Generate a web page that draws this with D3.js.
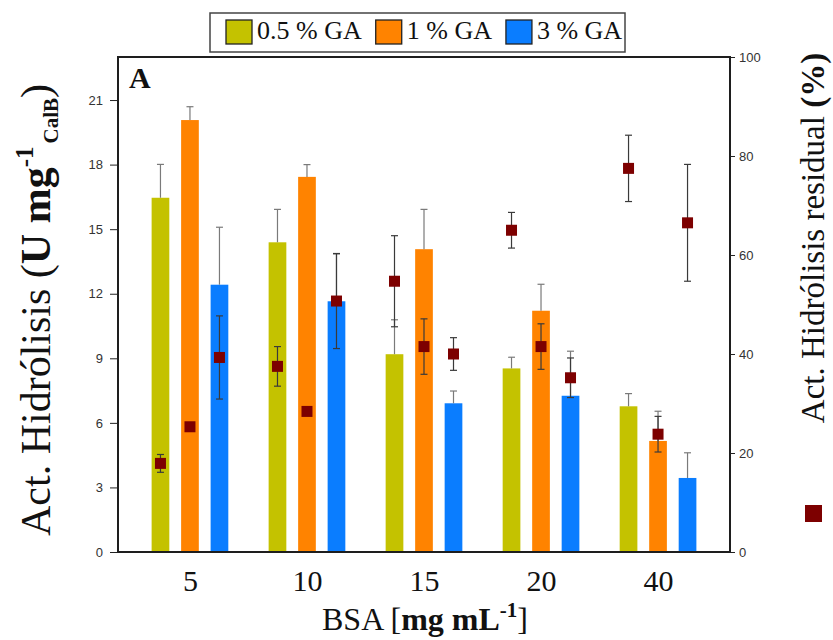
<!DOCTYPE html>
<html><head><meta charset="utf-8">
<script src="https://cdn.jsdelivr.net/npm/d3@7"></script>
<style>
body{margin:0;background:#fff;}
svg{display:block;}
</style></head>
<body>
<svg id="chart" width="833" height="640"></svg>
<script>
// ---- data ----
const categories = ["5", "10", "15", "20", "40"];
const seriesNames = ["0.5 % GA", "1 % GA", "3 % GA"];
const seriesColors = ["#c4c200", "#ff8300", "#0a7dff"];
// Act. Hidrólisis (U mg-1 CalB) — bars
const act05 = [16.46, 14.39, 9.19, 8.53, 6.77];
const act05Err = [1.55, 1.53, 1.6, 0.52, 0.59];
const act1 = [20.07, 17.43, 14.07, 11.21, 5.16];
const act1Err = [0.62, 0.57, 1.85, 1.23, 1.38];
const act3 = [12.42, 11.65, 6.91, 7.26, 3.44];
const act3Err = [2.67, 2.2, 0.57, 2.07, 1.17];
// Act. Hidrólisis residual (%) — squares
const resid05 = [17.9, 37.5, 54.7, 65.0, 77.5];
const resid05Err = [1.8, 4.0, 9.2, 3.6, 6.7];
const resid1 = [25.3, 28.4, 41.5, 41.5, 23.8];
const resid1Err = [0, 0, 5.6, 4.6, 3.6];
const resid3 = [39.3, 50.7, 40.0, 35.2, 66.5];
const resid3Err = [8.4, 9.6, 3.3, 4.0, 11.8];
const leftTicks = [0, 3, 6, 9, 12, 15, 18, 21];
const rightTicks = [0, 20, 40, 60, 80, 100];

const barVals = [act05, act1, act3];
const barErrs = [act05Err, act1Err, act3Err];
const resVals = [resid05, resid1, resid3];
const resErrs = [resid05Err, resid1Err, resid3Err];

// ---- layout ----
const L = 118, R = 730, T = 57, B = 552;
const serif = "'Liberation Serif','Times New Roman',serif";
const sans = "'Liberation Sans',Arial,sans-serif";
const svg = d3.select("#chart");

const x0 = d3.scalePoint().domain(categories).range([L, R]).padding(0.615);
const x1 = d3.scaleBand().domain(d3.range(seriesNames.length)).range([-44.25, 44.25]).paddingInner(0.4).paddingOuter(0.2);
const yL = d3.scaleLinear().domain([0, 23]).range([B, T]);
const yR = d3.scaleLinear().domain([0, 100]).range([B, T]);

// flatten records
const recs = [];
categories.forEach((c, i) => {
  seriesNames.forEach((s, k) => {
    recs.push({c, k, v: barVals[k][i], e: barErrs[k][i], r: resVals[k][i], re: resErrs[k][i]});
  });
});
const cx = d => x0(d.c) + x1(d.k) + x1.bandwidth() / 2;

// bars
svg.append("g").selectAll("rect").data(recs).join("rect")
  .attr("x", d => x0(d.c) + x1(d.k))
  .attr("y", d => yL(d.v))
  .attr("width", x1.bandwidth())
  .attr("height", d => yL(0) - yL(d.v))
  .attr("fill", d => seriesColors[d.k]);

// bar error bars (upward)
const be = svg.append("g").attr("stroke", "#7a7a7a").attr("stroke-width", 1.2);
recs.forEach(d => {
  const X = cx(d);
  be.append("line").attr("x1", X).attr("x2", X).attr("y1", yL(d.v)).attr("y2", yL(d.v + d.e));
  be.append("line").attr("x1", X - 3.5).attr("x2", X + 3.5).attr("y1", yL(d.v + d.e)).attr("y2", yL(d.v + d.e));
});

// residual error bars
const re = svg.append("g").attr("stroke", "#3a3a3a").attr("stroke-width", 1.2);
recs.forEach(d => {
  const X = cx(d);
  re.append("line").attr("x1", X).attr("x2", X).attr("y1", yR(d.r - d.re)).attr("y2", yR(d.r + d.re));
  [d.r - d.re, d.r + d.re].forEach(v => {
    re.append("line").attr("x1", X - 3.5).attr("x2", X + 3.5).attr("y1", yR(v)).attr("y2", yR(v));
  });
});

// squares
const sq = 11;
svg.append("g").selectAll("rect").data(recs).join("rect")
  .attr("x", d => cx(d) - sq / 2)
  .attr("y", d => yR(d.r) - sq / 2)
  .attr("width", sq).attr("height", sq)
  .attr("fill", "#7d0000");

// frame
svg.append("rect").attr("x", L).attr("y", T).attr("width", R - L).attr("height", B - T)
  .attr("fill", "none").attr("stroke", "#1e1e1e").attr("stroke-width", 2);

// left axis
const gl = svg.append("g").attr("transform", `translate(${L},0)`)
  .call(d3.axisLeft(yL).tickValues(leftTicks).tickSize(8).tickPadding(7));
gl.select(".domain").remove();
gl.selectAll("text").attr("font-family", sans).attr("font-size", 13).attr("fill", "#333");
gl.selectAll("line").attr("stroke", "#222");

// right axis
const gr = svg.append("g").attr("transform", `translate(${R},0)`)
  .call(d3.axisRight(yR).tickValues(rightTicks).tickSize(5).tickPadding(4));
gr.select(".domain").remove();
gr.selectAll("text").attr("font-family", sans).attr("font-size", 13).attr("fill", "#333");
gr.selectAll("line").attr("stroke", "#222");

// bottom axis labels
const gb = svg.append("g").attr("transform", `translate(0,${B})`)
  .call(d3.axisBottom(x0).tickSize(0).tickPadding(0));
gb.select(".domain").remove();
gb.selectAll("text").attr("font-family", serif).attr("font-size", 30).attr("fill", "#111")
  .attr("dy", null).attr("y", 39);

// "A" label
svg.append("text").attr("x", 129).attr("y", 88).attr("font-family", serif)
  .attr("font-weight", "bold").attr("font-size", 30).attr("fill", "#111").text("A");

// x title
const xt = svg.append("text").attr("x", (L + R) / 2 + 1).attr("y", 630).attr("text-anchor", "middle")
  .attr("font-family", serif).attr("font-size", 32).attr("fill", "#111");
xt.append("tspan").text("BSA [");
xt.append("tspan").attr("font-weight", "bold").text("mg mL");
xt.append("tspan").attr("font-weight", "bold").attr("font-size", 21).attr("dy", -13).text("-1");
xt.append("tspan").attr("dy", 13).text("]");

// left title
const lt = svg.append("text").attr("transform", "translate(50,310) rotate(-90)")
  .attr("text-anchor", "middle").attr("font-family", serif).attr("font-size", 42).attr("fill", "#111");
lt.append("tspan").text("Act. Hidrólisis (");
lt.append("tspan").attr("font-weight", "bold").text("U mg");
lt.append("tspan").attr("font-weight", "bold").attr("font-size", 25).attr("dy", -17).text("-1");
lt.append("tspan").attr("font-weight", "bold").attr("font-size", 21).attr("dy", 25).attr("dx", 3).text("CalB");
lt.append("tspan").attr("dy", -8).text(")");

// right title
const rt = svg.append("text").attr("transform", "translate(824,238) rotate(-90)")
  .attr("text-anchor", "middle").attr("font-family", serif).attr("font-size", 33).attr("fill", "#111");
rt.append("tspan").text("Act. Hidrólisis residual ");
rt.append("tspan").attr("font-weight", "bold").text("(%)");

// right legend square
svg.append("rect").attr("x", 805).attr("y", 505).attr("width", 17).attr("height", 17).attr("fill", "#7d0000");

// top legend
const lg = svg.append("g");
lg.append("rect").attr("x", 210).attr("y", 13).attr("width", 415).attr("height", 39)
  .attr("fill", "#fff").attr("stroke", "#444").attr("stroke-width", 1.5);
let lx = 226;
seriesNames.forEach((s, k) => {
  lg.append("rect").attr("x", lx).attr("y", 20).attr("width", 26).attr("height", 24)
    .attr("fill", seriesColors[k]).attr("stroke", "#222").attr("stroke-width", 1.3);
  const t = lg.append("text").attr("x", lx + 31).attr("y", 39).attr("font-family", serif)
    .attr("font-size", 26).attr("fill", "#111").text(s);
  lx += 31 + t.node().getComputedTextLength() + 14;
});
</script>
</body></html>
